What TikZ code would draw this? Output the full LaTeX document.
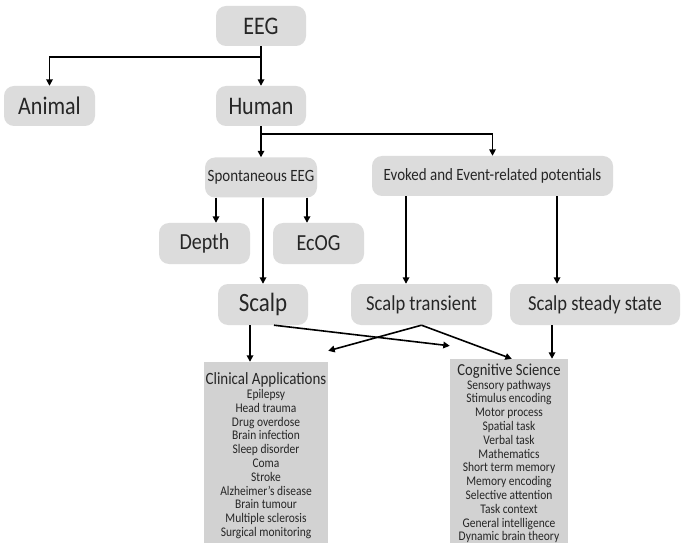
\documentclass[tikz,border=0pt]{standalone}
\usepackage{fontspec}
\setmainfont[FakeStretch=0.87]{Carlito}
\usetikzlibrary{arrows.meta,calc}
\definecolor{boxgray}{HTML}{DCDCDC}
\definecolor{listgray}{HTML}{D2D2D2}
\definecolor{txt}{HTML}{262626}
\begin{document}
\begin{tikzpicture}[x=1pt,y=-1pt,
  rbox/.style={fill=boxgray, rounded corners=10pt, text=txt, inner sep=0pt, align=center},
  lbox/.style={fill=listgray, inner sep=0pt},
  ltext/.style={text=txt, align=center, inner sep=0pt, anchor=north,
    font=\fontsize{13.2}{13.8}\selectfont},
  arr/.style={line width=1.6pt, -{Triangle[length=6.5pt,width=6.5pt]}},
  big/.style={font=\fontsize{25.3}{28}\selectfont},
  mid/.style={font=\fontsize{21.3}{24}\selectfont},
  sml/.style={font=\fontsize{17.2}{20}\selectfont}]
\useasboundingbox (0,0) rectangle (682,545);
\fill[white] (0,0) rectangle (682,545);

\node[rbox,big,minimum width=90pt,minimum height=40pt] (eeg) at (261,26) {EEG};
\node[rbox,big,minimum width=91pt,minimum height=40pt] (animal) at (49.5,106) {Animal};
\node[rbox,big,minimum width=90pt,minimum height=40pt] (human) at (261,106) {Human};
\node[rbox,sml,minimum width=112pt,minimum height=40pt] (spont) at (261,177.5) {Spontaneous EEG};
\node[rbox,sml,minimum width=241pt,minimum height=40pt] (evoked) at (492.5,176) {Evoked and Event-related potentials};
\node[rbox,font=\fontsize{23}{26}\selectfont,minimum width=91pt,minimum height=41pt] (depth) at (204.5,243.5) {Depth};
\node[rbox,font=\fontsize{23}{26}\selectfont,minimum width=91pt,minimum height=41pt] (ecog) at (318.5,243.5) {EcOG};
\node[rbox,font=\fontsize{26.4}{30}\selectfont,minimum width=90pt,minimum height=41pt] (scalp) at (263,304.5) {Scalp};
\node[rbox,mid,minimum width=141pt,minimum height=41pt] (strans) at (421.5,304.5) {Scalp transient};
\node[rbox,mid,minimum width=170pt,minimum height=41pt] (ssteady) at (595,304.5) {Scalp steady state};

\node[lbox,minimum width=124pt,minimum height=181pt] (clin) at (266,452.5) {};
\node[lbox,minimum width=118pt,minimum height=184pt] (cog) at (509,451) {};

\node[ltext] (clintext) at (266,372.5) {{\fontsize{17.2}{18}\selectfont Clinical Applications}\\
Epilepsy\\ Head trauma\\ Drug overdose\\ Brain infection\\ Sleep disorder\\ Coma\\ Stroke\\
Alzheimer's disease\\ Brain tumour\\ Multiple sclerosis\\ Surgical monitoring};
\node[ltext] (cogtext) at (509,363.5) {{\fontsize{16.8}{18}\selectfont Cognitive Science}\\
Sensory pathways\\ Stimulus encoding\\ Motor process\\ Spatial task\\ Verbal task\\ Mathematics\\
Short term memory\\ Memory encoding\\ Selective attention\\ Task context\\ General intelligence\\ Dynamic brain theory};

% connectors
\draw[arr] (eeg.south) -- ++(0,11) -| (animal.north);
\draw[arr] (eeg.south) -- (human.north);
\draw[arr] (human.south) -- (spont.north);
\draw[arr] (human.south) -- ++(0,8) -| (evoked.north);
\draw[arr] ([xshift=-45pt]spont.south) -- ([xshift=-45pt]spont.south |- depth.north);
\draw[arr] ([xshift=46pt]spont.south) -- ([xshift=46pt]spont.south |- ecog.north);
\draw[arr] (spont.south -| scalp.north) -- (scalp.north);
\draw[arr] ([xshift=-86.5pt]evoked.south) -- ([xshift=-86.5pt]evoked.south |- strans.north);
\draw[arr] ([xshift=64.5pt]evoked.south) -- ([xshift=64.5pt]evoked.south |- ssteady.north);
\draw[arr] ([xshift=-13pt]scalp.south) -- ([xshift=-13pt]scalp.south |- clin.north);
\draw[arr] ([xshift=-43pt]ssteady.south) -- ([xshift=-43pt]ssteady.south |- cog.north);
\draw[arr] ([xshift=11pt]scalp.south) -- ([yshift=13pt]cog.north west);
\draw[arr] (strans.south) -- ([yshift=11pt]clin.north east);
\draw[arr] (strans.south) -- ([xshift=62pt]cog.north west);
\end{tikzpicture}
\end{document}
